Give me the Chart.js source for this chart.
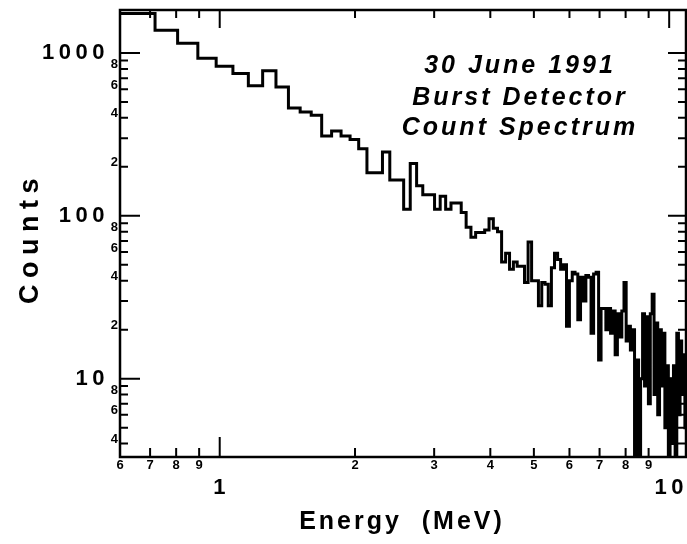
<!DOCTYPE html>
<html>
<head>
<meta charset="utf-8">
<title>30 June 1991 Burst Detector Count Spectrum</title>
<script src="https://cdn.jsdelivr.net/npm/chart.js@4"></script>
<style>
  html, body { margin: 0; padding: 0; background: #fff; }
  canvas { display: block; }
</style>
</head>
<body>
<canvas id="spectrumChart" width="687" height="544"></canvas>
<script>
// bin edges (MeV) of the count histogram
const binEdges = [
    0.542, 0.630, 0.718, 0.806, 0.894, 0.982, 1.070, 1.158, 1.246, 1.334,
    1.422, 1.510, 1.598, 1.686, 1.774, 1.862, 1.950, 2.038, 2.126, 2.214,
    2.302, 2.390, 2.478, 2.566, 2.654, 2.742, 2.830, 2.918, 3.006, 3.094,
    3.182, 3.270, 3.358, 3.446, 3.534, 3.622, 3.710, 3.798, 3.886, 3.974,
    4.062, 4.150, 4.238, 4.326, 4.414, 4.502, 4.590, 4.678, 4.766, 4.854,
    4.942, 5.030, 5.118, 5.206, 5.294, 5.382, 5.470, 5.558, 5.646, 5.734,
    5.822, 5.910, 5.998, 6.086, 6.174, 6.262, 6.350, 6.438, 6.526, 6.614,
    6.702, 6.790, 6.878, 6.966, 7.054, 7.142, 7.230, 7.318, 7.406, 7.494,
    7.582, 7.670, 7.758, 7.846, 7.934, 8.022, 8.110, 8.198, 8.286, 8.374,
    8.462, 8.550, 8.638, 8.726, 8.814, 8.902, 8.990, 9.078, 9.166, 9.254,
    9.342, 9.430, 9.518, 9.606, 9.694, 9.782, 9.870, 9.958, 10.046, 10.134,
    10.222, 10.310, 10.398, 10.486, 10.574, 10.662, 10.750, 10.838, 10.926
];

// counts per bin (one less than the edges)
const counts = [
    1750, 1750, 1380, 1150, 930, 830, 750, 630, 780, 620,
    460, 435, 415, 310, 332, 310, 295, 258, 184, 184,
    247, 166, 166, 110, 210, 153, 135, 135, 110, 132,
    110, 120, 120, 105, 85, 74, 79, 79, 82, 96,
    84, 80, 52, 59, 47, 52, 49, 49, 39, 69,
    40, 40, 28, 39, 38, 28, 48, 59, 54, 47,
    50, 21, 40, 45, 44, 23, 42, 30, 43, 42,
    19, 44, 45, 13, 27, 27, 20, 27, 19, 26,
    14, 25, 18, 26, 39, 17, 21, 15, 20, 0,
    13, 0, 10, 25, 9, 24, 7, 25, 33, 8,
    22, 6, 20, 9, 19, 5, 12, 0, 10, 4,
    12, 0, 19, 6, 17, 8, 14, 5
];

// axis ticks
const xMajorTicks = [1, 10];
const xMajorLabels = ['1', '10'];
const xMinorTicks = [0.6, 0.7, 0.8, 0.9, 2, 3, 4, 5, 6, 7, 8, 9];
const xMinorLabels = ['6', '7', '8', '9', '2', '3', '4', '5', '6', '7', '8', '9'];
const yMajorTicks = [10, 100, 1000];
const yMajorLabels = ['10', '100', '1000'];
const yMinorTicks = [4, 5, 6, 7, 8, 9, 20, 30, 40, 50, 60, 70, 80, 90,
                     200, 300, 400, 500, 600, 700, 800, 900];
const yMinorLabels = ['4', '', '6', '', '8', '', '2', '', '4', '', '6', '', '8', '',
                      '2', '', '4', '', '6', '', '8', ''];

const titleLines = ['30 June 1991', 'Burst Detector', 'Count Spectrum'];

const BOLD = 'bold ';
const FAMILY = '"Liberation Sans", Arial, sans-serif';

// histogram outline: two points per bin, zero counts dropped below the axis
function stepPoints() {
    const pts = [];
    for (let i = 0; i < counts.length; i++) {
        const c = counts[i] > 0 ? counts[i] : 1;
        pts.push({ x: binEdges[i], y: c });
        pts.push({ x: binEdges[i + 1], y: c });
    }
    return pts;
}

// frame, inward ticks and all the text
const axesPlugin = {
    id: 'axesPlugin',
    afterDatasetsDraw(chart) {
        const ctx = chart.ctx;
        const a = chart.chartArea;
        const xs = chart.scales.x;
        const ys = chart.scales.y;

        ctx.save();
        ctx.strokeStyle = '#000';
        ctx.lineWidth = 2.5;
        ctx.strokeRect(a.left, a.top, a.right - a.left, a.bottom - a.top);

        ctx.lineWidth = 2;
        ctx.beginPath();
        xMinorTicks.forEach(v => {
            const px = xs.getPixelForValue(v);
            ctx.moveTo(px, a.bottom); ctx.lineTo(px, a.bottom - 9);
            ctx.moveTo(px, a.top); ctx.lineTo(px, a.top + 8);
        });
        xMajorTicks.forEach(v => {
            const px = xs.getPixelForValue(v);
            ctx.moveTo(px, a.bottom); ctx.lineTo(px, a.bottom - 20);
            ctx.moveTo(px, a.top); ctx.lineTo(px, a.top + 18);
        });
        yMinorTicks.forEach(v => {
            const py = ys.getPixelForValue(v);
            ctx.moveTo(a.left, py); ctx.lineTo(a.left + 8, py);
            ctx.moveTo(a.right, py); ctx.lineTo(a.right - 8, py);
        });
        yMajorTicks.forEach(v => {
            const py = ys.getPixelForValue(v);
            ctx.moveTo(a.left, py); ctx.lineTo(a.left + 20, py);
            ctx.moveTo(a.right, py); ctx.lineTo(a.right - 18, py);
        });
        ctx.stroke();

        ctx.fillStyle = '#000';

        // small tick labels
        ctx.font = BOLD + '13px ' + FAMILY;
        ctx.letterSpacing = '0px';
        ctx.textAlign = 'right';
        ctx.textBaseline = 'middle';
        yMinorTicks.forEach((v, i) => {
            if (yMinorLabels[i]) ctx.fillText(yMinorLabels[i], a.left - 2, ys.getPixelForValue(v) - 4);
        });
        ctx.textAlign = 'center';
        xMinorTicks.forEach((v, i) => {
            ctx.fillText(xMinorLabels[i], xs.getPixelForValue(v), a.bottom + 8);
        });

        // decade labels
        ctx.font = BOLD + '22px ' + FAMILY;
        ctx.letterSpacing = '4.5px';
        ctx.textAlign = 'right';
        yMajorTicks.forEach((v, i) => {
            ctx.fillText(yMajorLabels[i], a.left - 11, ys.getPixelForValue(v));
        });
        ctx.textAlign = 'center';
        xMajorTicks.forEach((v, i) => {
            ctx.fillText(xMajorLabels[i], xs.getPixelForValue(v) + 2, a.bottom + 31);
        });

        // axis titles
        ctx.font = BOLD + '25px ' + FAMILY;
        ctx.letterSpacing = '3px';
        ctx.fillText('Energy  (MeV)', 402, 522);
        ctx.save();
        ctx.translate(31, 238);
        ctx.rotate(-Math.PI / 2);
        ctx.font = BOLD + '27px ' + FAMILY;
        ctx.letterSpacing = '6.5px';
        ctx.fillText('Counts', 0, 0);
        ctx.restore();

        // title block inside the plot
        ctx.font = 'italic bold 25px ' + FAMILY;
        ctx.letterSpacing = '3px';
        ctx.textBaseline = 'alphabetic';
        const baselines = [73, 105, 135];
        titleLines.forEach((t, i) => ctx.fillText(t, 520, baselines[i]));
        ctx.restore();
    }
};

document.addEventListener("DOMContentLoaded", function () {
    const ctx = document.getElementById('spectrumChart').getContext('2d');
    new Chart(ctx, {
        type: 'line',
        data: {
            datasets: [{
                data: stepPoints(),
                borderColor: '#000',
                borderWidth: 3,
                borderJoinStyle: 'miter',
                pointRadius: 0,
                fill: false,
                tension: 0,
                clip: 0
            }]
        },
        options: {
            responsive: false,
            animation: false,
            layout: { padding: { left: 120, top: 10, right: 1, bottom: 87 } },
            plugins: {
                legend: { display: false },
                tooltip: { enabled: false }
            },
            scales: {
                x: { type: 'logarithmic', min: 0.605, max: 10.9, display: false },
                y: { type: 'logarithmic', min: 3.3, max: 1840, display: false }
            }
        },
        plugins: [axesPlugin]
    });
});
</script>
</body>
</html>
